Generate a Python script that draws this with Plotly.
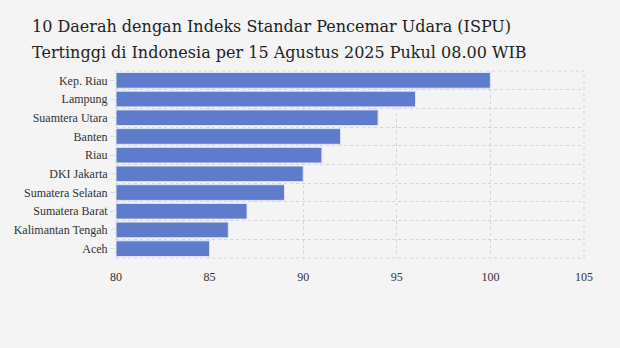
import plotly.graph_objects as go

regions = ["Kep. Riau", "Lampung", "Suamtera Utara", "Banten", "Riau", "DKI Jakarta",
           "Sumatera Selatan", "Sumatera Barat", "Kalimantan Tengah", "Aceh"]
ispu = [100, 96, 94, 92, 91, 90, 89, 87, 86, 85]
x_ticks = [80, 85, 90, 95, 100, 105]
title_lines = ["10 Daerah dengan Indeks Standar Pencemar Udara (ISPU)",
               "Tertinggi di Indonesia per 15 Agustus 2025 Pukul 08.00 WIB"]

BG = "#f4f4f4"
GRID = "#d4d4d4"
W, H = 620, 348
ML, MR, MT, MB = 116, 36, 71, 90
PH = H - MT - MB

fig = go.Figure()
fig.add_trace(go.Bar(
    y=regions, x=[v - 80 for v in ispu], base=80, orientation="h",
    marker=dict(color="#5f7bcb", line=dict(color="#dfe5f5", width=1)),
    hoverinfo="skip", showlegend=False, yaxis="y",
))
# invisible trace used to draw the row-boundary gridlines
fig.add_trace(go.Bar(
    y=regions, x=[v - 80 for v in ispu], base=80, orientation="h",
    marker=dict(color="rgba(0,0,0,0)"), opacity=0,
    hoverinfo="skip", showlegend=False, yaxis="y2",
))

def paper_y(py):
    return (H - MB - py) / PH

def paper_x(px):
    return (px - ML) / (W - ML - MR)

annotations = []
for i, line in enumerate(title_lines):
    annotations.append(dict(
        text=line, xref="paper", yref="paper", x=paper_x(30), y=paper_y(27 + 25 * i),
        xanchor="left", yanchor="middle", showarrow=False,
        font=dict(family="DejaVu Serif", size=16, color="#222"),
    ))

fig.update_layout(
    width=W, height=H,
    paper_bgcolor=BG, plot_bgcolor=BG,
    margin=dict(l=ML, r=MR, t=MT, b=MB),
    bargap=0.16,
    annotations=annotations,
    shapes=[dict(type="rect", xref="paper", yref="paper", x0=0, x1=1, y0=0, y1=1,
                 line=dict(color=GRID, width=1, dash="dot"), layer="below")],
    xaxis=dict(range=[80, 105], tickvals=x_ticks, showgrid=True, gridcolor=GRID,
               griddash="dot", gridwidth=1, zeroline=False, showline=False,
               tickfont=dict(family="Liberation Serif", size=12, color="#333"),
               ticks="", ticklabelstandoff=10),
    yaxis=dict(categoryorder="array", categoryarray=regions, range=[9.5, -0.5],
               showgrid=False, ticks="outside", ticklen=5, tickcolor="#dddddd",
               tickfont=dict(family="Liberation Serif", size=12, color="#333"),
               showline=False, zeroline=False),
    yaxis2=dict(categoryorder="array", categoryarray=regions, range=[9.5, -0.5],
                overlaying="y", side="left", tickson="boundaries", showgrid=True,
                gridcolor=GRID, griddash="dot", gridwidth=1, showticklabels=False,
                ticks="", showline=False, zeroline=False),
)

fig.write_html("out.html")
